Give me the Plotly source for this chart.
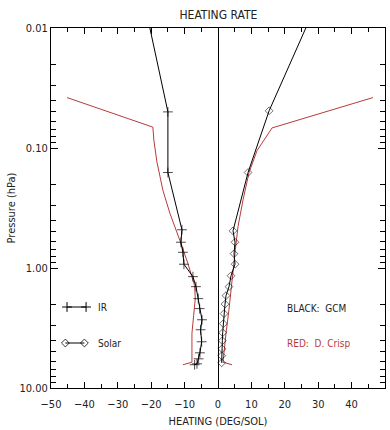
import plotly.graph_objects as go

# ---------------- data ----------------
ir_gcm_heat = [-20.4, -15.0, -15.0, -10.8, -11.1, -10.5, -10.2, -7.5, -6.6,
               -5.9, -5.5, -4.8, -5.2, -4.9, -5.4, -5.8, -6.3, -7.0]
ir_gcm_p = [0.01, 0.050, 0.16, 0.48, 0.61, 0.74, 0.93, 1.18, 1.43,
            1.80, 2.18, 2.70, 3.27, 4.12, 5.09, 5.71, 6.29, 6.4]

sol_gcm_heat = [26.3, 15.3, 9.0, 4.5, 5.1, 4.8, 5.1, 3.9, 3.3,
                2.4, 2.1, 1.8, 1.6, 1.4, 1.3, 1.2, 1.1, 1.1]
sol_gcm_p = [0.01, 0.049, 0.16, 0.49, 0.61, 0.76, 0.93, 1.16, 1.43,
             1.70, 2.00, 2.40, 2.91, 3.46, 4.04, 4.71, 5.39, 6.17]

ir_crisp_heat = [-45.2, -19.5, -19.2, -18.3, -16.5, -14.4, -11.4, -9.0, -7.0,
                 -6.8, -7.3, -7.8, -7.8, -10.5]
ir_crisp_p = [0.038, 0.067, 0.086, 0.13, 0.225, 0.35, 0.59, 0.92, 1.4,
              1.8, 2.5, 3.5, 6.1, 6.4]

sol_crisp_heat = [46.4, 16.2, 11.7, 9.3, 7.5, 6.0, 5.2, 4.6, 4.2,
                  3.3, 2.4, 1.8, 1.5, 4.2]
sol_crisp_p = [0.038, 0.068, 0.105, 0.16, 0.27, 0.45, 0.7, 1.0, 1.4,
               2.2, 3.5, 5.0, 6.1, 6.4]

y_tickvals = [0.01, 0.1, 1, 10]
y_ticktext = ["0.01", "0.10", "1.00", "10.00"]
y_minor = [m * 10 ** e for e in (-2, -1, 0) for m in range(2, 10)]

FONT = "DejaVu Sans Condensed, Liberation Sans Narrow, Liberation Sans, sans-serif"
TXT = "#222222"
RED = "#b83a3a"

fig = go.Figure()

# first point of GCM profiles lies on the top border: no marker drawn there
def sizes(n, s):
    return [0] + [s] * (n - 1)

fig.add_trace(go.Scatter(x=ir_crisp_heat, y=ir_crisp_p, mode="lines",
                         line=dict(color=RED, width=1), showlegend=False))
fig.add_trace(go.Scatter(x=sol_crisp_heat, y=sol_crisp_p, mode="lines",
                         line=dict(color=RED, width=1), showlegend=False))
fig.add_trace(go.Scatter(x=ir_gcm_heat, y=ir_gcm_p, mode="lines+markers",
                         line=dict(color="black", width=1),
                         marker=dict(symbol="cross-thin-open", size=sizes(len(ir_gcm_p), 7),
                                     line=dict(color="black", width=1)),
                         showlegend=False))
fig.add_trace(go.Scatter(x=sol_gcm_heat, y=sol_gcm_p, mode="lines+markers",
                         line=dict(color="black", width=1),
                         marker=dict(symbol="diamond-open", size=sizes(len(sol_gcm_p), 6),
                                     color="black", line=dict(color="black", width=0.8)),
                         showlegend=False))

# legend samples on an overlay axis in plot-fraction units
fig.add_trace(go.Scatter(x=[0.048, 0.105], y=[0.225, 0.225], xaxis="x2", yaxis="y2",
                         mode="lines+markers", line=dict(color="black", width=1),
                         marker=dict(symbol="cross-thin-open", size=7,
                                     line=dict(color="black", width=1)),
                         showlegend=False, hoverinfo="skip"))
fig.add_trace(go.Scatter(x=[0.043, 0.10], y=[0.125, 0.125], xaxis="x2", yaxis="y2",
                         mode="lines+markers", line=dict(color="black", width=1),
                         marker=dict(symbol="diamond-open", size=6, color="black",
                                     line=dict(color="black", width=0.8)),
                         showlegend=False, hoverinfo="skip"))

for txt, x, y, col in [("IR", 0.135, 0.225, TXT), ("Solar", 0.135, 0.125, TXT),
                       ("BLACK:  GCM", 0.70, 0.222, TXT),
                       ("RED:  D. Crisp", 0.70, 0.125, RED)]:
    fig.add_annotation(text=txt, x=x, y=y, xref="paper", yref="paper",
                       xanchor="left", yanchor="middle", showarrow=False,
                       font=dict(family=FONT, size=10, color=col))

fig.update_layout(
    width=390, height=430,
    margin=dict(l=51, r=5, t=28, b=42),
    paper_bgcolor="white", plot_bgcolor="white",
    font=dict(family=FONT, size=11, color=TXT),
    title=dict(text="HEATING RATE", x=0.56, xanchor="center", y=0.965, yanchor="middle",
               font=dict(family=FONT, size=12, color=TXT)),
    xaxis=dict(range=[-50, 50], tick0=0, dtick=10, ticks="inside", ticklen=6,
               tickcolor="black", tickwidth=1, ticklabelstandoff=6,
               minor=dict(dtick=5, ticks="inside", ticklen=4, tickcolor="black", showgrid=False),
               showline=True, linecolor="black", linewidth=1, mirror="allticks",
               showgrid=False, zeroline=True, zerolinecolor="black", zerolinewidth=1,
               tickfont=dict(family=FONT, size=11, color=TXT),
               title=dict(text="HEATING (DEG/SOL)", standoff=7,
                          font=dict(family=FONT, size=11, color=TXT))),
    yaxis=dict(type="log", range=[1, -2], tickmode="array", tickvals=y_tickvals,
               ticktext=y_ticktext, ticks="inside", ticklen=7, tickcolor="black",
               minor=dict(tickmode="array", tickvals=y_minor, ticks="inside", ticklen=5,
                          tickcolor="black", showgrid=False),
               showline=True, linecolor="black", linewidth=1, mirror="allticks",
               showgrid=False, zeroline=False,
               tickfont=dict(family=FONT, size=11, color=TXT),
               title=dict(text="Pressure (hPa)", standoff=1,
                          font=dict(family=FONT, size=11, color=TXT))),
    xaxis2=dict(overlaying="x", range=[0, 1], visible=False, fixedrange=True),
    yaxis2=dict(overlaying="y", range=[0, 1], visible=False, fixedrange=True),
)

fig.write_html("out.html")
